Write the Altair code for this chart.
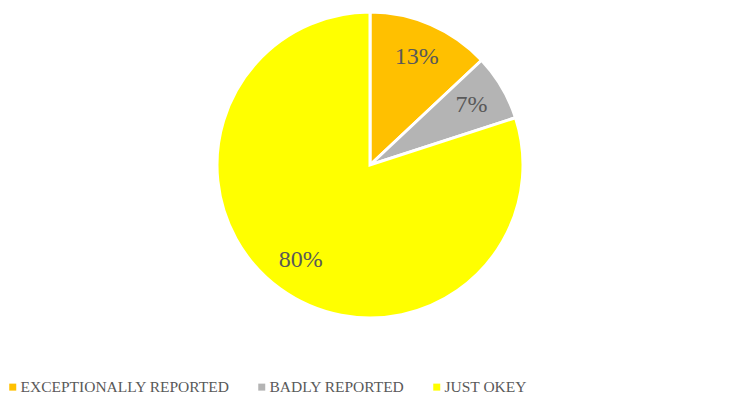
import altair as alt
import pandas as pd

categories = ["EXCEPTIONALLY REPORTED", "BADLY REPORTED", "JUST OKEY"]
values = [13, 7, 80]
labels = ["13%", "7%", "80%"]
colors = ["#FFC000", "#B4B4B4", "#FFFF00"]

df = pd.DataFrame({"category": categories, "value": values, "label": labels,
                   "order": list(range(len(categories)))})

cx, cy, R = 362, 157, 153

base = alt.Chart(df).encode(
    theta=alt.Theta("value:Q", stack=True),
    order=alt.Order("order:Q"),
)

pie = base.mark_arc(outerRadius=R, stroke="white", strokeWidth=3).encode(
    x=alt.value(cx), y=alt.value(cy),
    color=alt.Color("category:N",
                    scale=alt.Scale(domain=categories, range=colors),
                    sort=categories,
                    legend=alt.Legend(
                        title=None, orient="none", direction="horizontal",
                        legendX=-3, legendY=371, columns=3,
                        symbolType="square", symbolSize=49, symbolStrokeWidth=0,
                        labelFont="Liberation Serif", labelFontSize=15.5,
                        labelColor="#595959", labelOffset=0,
                        columnPadding=24, labelLimit=400)),
)

text = base.mark_text(radius=118, font="Liberation Serif", fontSize=24,
                      color="#595959", align="center", baseline="middle").encode(
    x=alt.value(cx), y=alt.value(cy),
    text="label:N",
)

chart = (pie + text).properties(
    width=724, height=392,
    autosize=alt.AutoSizeParams(type="none"),
    padding=0,
).configure_view(stroke=None)

chart.save("out.html", embed_options={"renderer": "svg", "actions": False})
